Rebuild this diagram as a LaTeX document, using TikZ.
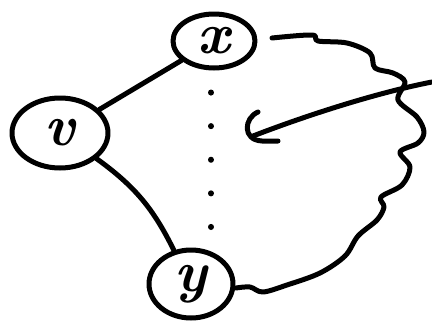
\documentclass[tikz,border=0pt]{standalone}
\usepackage{fontspec}
\usepackage{tikz}
\usetikzlibrary{shapes.geometric,positioning,calc}

\begin{document}
\begin{tikzpicture}[
                x=1pt, y=-1pt,
                line width=5pt, line cap=round, line join=round,
                vertex/.style={ellipse, draw, inner sep=0pt,
                        font=\fontsize{58}{58}\selectfont\bfseries\itshape},
                edge/.style={draw},
                gap/.style={draw, dash pattern=on 0.1pt off 33.5pt,
                        line width=6pt, shorten <=22pt, shorten >=20pt},
            ]
            \useasboundingbox (0,0) rectangle (432,322);

            % ── Vertices ──────────────────────────────────────────
            \node[vertex, minimum width=96pt, minimum height=70pt] (v) at ( 60,133) {v};
            \node[vertex, minimum width=82pt, minimum height=54pt] (x) at (214, 41) {x};
            \node[vertex, minimum width=84pt, minimum height=68pt] (y) at (191,284) {y};

            % ── Edges from v ──────────────────────────────────────
            \draw[edge] (v) -- (x);
            \draw[edge] (v) to[bend left=14] (y);

            % ── Dotted separator between x and y ──────────────────
            \draw[gap] ([xshift=-3pt]x.south) -- ([xshift=-3pt]x.south |- y.north);

            % ── Wavy region from x round to y ─────────────────────
            \coordinate (c0) at (272,38);
            \coordinate (c1) at (236,288);
            \draw plot[smooth, tension=0.55] coordinates {
                (c0) (312,35) (318,41) (347,43) (370,53) (375,68) (393,73)
                (405,82) (398,100) (417,117) (424,132) (418,143) (400,152)
                (410,167) (402,185) (381,197) (384,207) (377,220) (358,236)
                (345,256) (320,273) (287,285) (263,292) (250,287) (c1)};

            % ── Hook with its tail to the right edge ──────────────
            \coordinate (far) at (432,82);
            \coordinate (tip) at (253,136);
            \draw (far) .. controls (380,92) and (310,114) .. (tip);
            \draw (258,112) .. controls (244,118) and (242,140) .. (262,141) -- (278,141);
        \end{tikzpicture}
\end{document}
